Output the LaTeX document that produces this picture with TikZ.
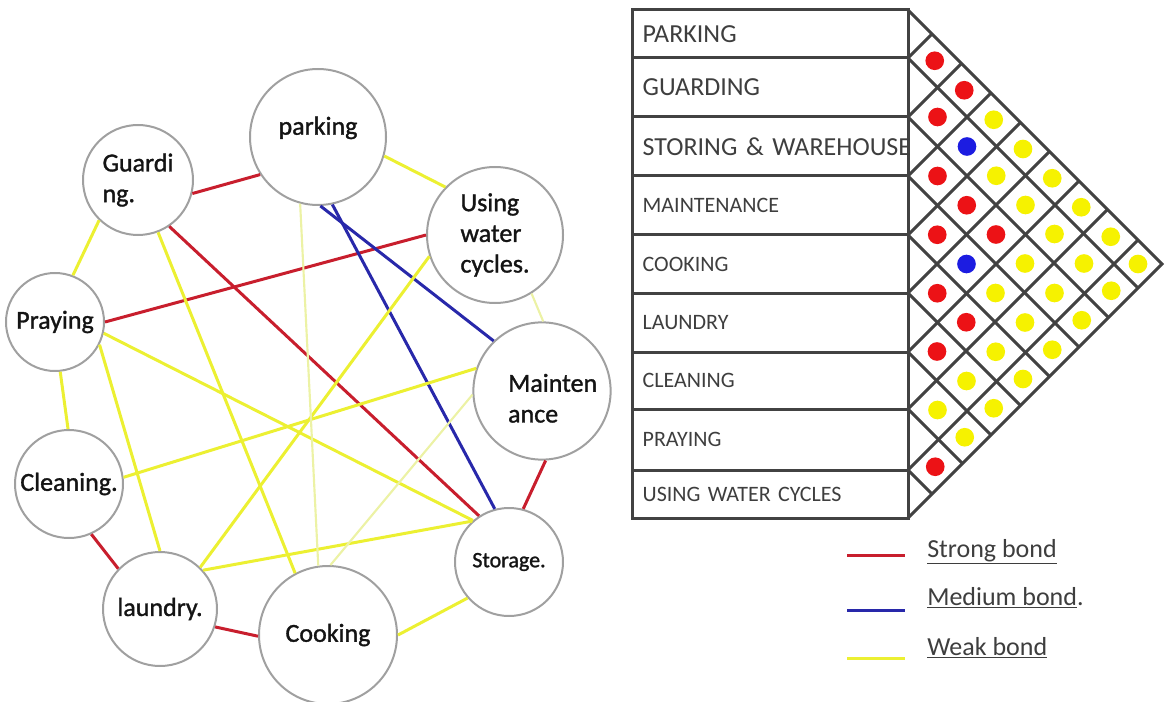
\documentclass[tikz,border=0pt]{standalone}
\usepackage{fontspec}
\setmainfont{Carlito}
\newfontfamily\nodofont[FakeBold=1.2]{Carlito}
\usetikzlibrary{calc}

% Colori
\definecolor{cerchio}{RGB}{160,160,160}
\definecolor{testo}{RGB}{20,20,20}
\definecolor{grigio}{RGB}{62,62,62}
\definecolor{linea}{RGB}{66,66,66}
\definecolor{rosso}{RGB}{200,30,45}
\definecolor{blu}{RGB}{40,40,170}
\definecolor{giallo}{RGB}{236,240,50}
\definecolor{gialloChiaro}{RGB}{236,242,165}
\definecolor{pRosso}{RGB}{236,18,22}
\definecolor{pBlu}{RGB}{28,28,225}
\definecolor{pGiallo}{RGB}{246,242,0}

% Corpi del testo
\newcommand{\grande}{\fontsize{19.5pt}{23pt}\selectfont}
\newcommand{\piccolo}{\fontsize{16.5pt}{20pt}\selectfont}
\newcommand{\minimo}{\fontsize{16.5pt}{20pt}\selectfont}

\begin{document}
\begin{tikzpicture}[x=0.75pt, y=-0.75pt]
	% Stili
	\tikzset{nodo/.style={circle, draw=cerchio, line width=1.5pt, fill=white, minimum size=#1*1.5pt, inner sep=0pt, align=left, text=testo, font=\nodofont\grande},
		forte/.style={rosso, line width=2.25pt},
		medio/.style={blu, line width=2.25pt},
		debole/.style={giallo, line width=2.25pt},
		tenue/.style={gialloChiaro, line width=1.6pt},
		riga/.style={draw=linea, line width=2.25pt, text width=191pt, align=left, inner xsep=8pt, inner ysep=0pt, outer sep=0pt, text=grigio},
		griglia/.style={linea, line width=2.25pt},
		legenda/.style={anchor=base west, inner sep=0pt, text=grigio, font=\grande}}
	\useasboundingbox (0,0) rectangle (1173,702);
	
	% Grafo delle attivita
	\node[nodo=68] (park)  at (318,137) {\raisebox{0pt}[\height][17pt]{parking}};
	\node[nodo=68] (water) at (495,235) {Using\\water\\cycles.};
	\node[nodo=55] (guard) at (138,180) {Guardi\\ng.};
	\node[nodo=49] (pray)  at (55,322)  {Praying};
	\node[nodo=68] (maint) at (542,391) {\hspace*{16pt}\raisebox{0pt}[\dimexpr\height+15pt][\depth]{\begin{tabular}{@{}l@{}}Mainten\\ance\end{tabular}}};
	\node[nodo=54, font=\nodofont\minimo] (stor) at (509,562) {Storage.};
	\node[nodo=69] (cook)  at (328,635) {Cooking};
	\node[nodo=57] (laund) at (160,609) {laundry.};
	\node[nodo=54] (clean) at (69,484)  {Cleaning.};
	
	% Legami forti
	\draw[forte] (guard.-14) -- (park.213);
	\draw[forte] (pray.0) -- (water.180);
	\draw[forte] (guard.-56) -- (stor.123);
	\draw[forte] (maint.-87) -- (stor.75);
	\draw[forte] (clean.-66) -- (laund.136);
	\draw[forte] (laund.-18) -- (cook.181);
	
	% Legami medi
	\draw[medio] (park.-88) -- (maint.134);
	\draw[medio] (park.-78) -- (stor.105);
	
	% Legami deboli
	\draw[debole] (park.-16) -- (water.136);
	\draw[debole] (guard.226) -- (pray.69);
	\draw[debole] (guard.-69) -- (cook.118);
	\draw[debole] (pray.-84) -- (clean.91);
	\draw[debole] (pray.-27) -- (laund.90);
	\draw[debole] (pray.-13) -- (stor.131);
	\draw[debole] (clean.7) -- (maint.161);
	\draw[debole] (laund.46) -- (water.198);
	\draw[debole] (laund.42) -- (stor.132);
	\draw[debole] (cook.0) -- (stor.221);
	\draw[tenue] (water.-58) -- (maint.89);
	\draw[tenue] (park.255) -- (cook.98);
	\draw[tenue] (cook.88) -- (maint.183);
	
	% Tabella delle attivita
	\foreach \nome/\yc/\alt/\fnt/\voce in {
		rPark/34/48/\grande/PARKING,
		rGuard/87.5/59/\grande/GUARDING,
		rStor/146.5/59/\grande/{\mbox{STORING \& WAREHOUSE}},
		rMaint/205.5/59/\piccolo/MAINTENANCE,
		rCook/264/58/\piccolo/COOKING,
		rLaund/322.5/59/\piccolo/LAUNDRY,
		rClean/380.5/57/\piccolo/CLEANING,
		rPray/439.5/61/\piccolo/PRAYING,
		rWater/494/48/\piccolo/USING WATER CYCLES}
		\node[riga, minimum height=\alt*0.75pt, font=\fnt] (\nome) at (770,\yc) {\voce};
	
	% Griglia a rombi
	\draw[griglia, line join=miter] (908,10) -- (1162,264) -- (908,518);
	\foreach \yb in {58,117,176,235,293,352,409,470}{
		\draw[griglia] (908,\yb) -- ({908+(518-\yb)/2},{(518+\yb)/2});
		\draw[griglia] (908,\yb) -- ({908+(\yb-10)/2},{(10+\yb)/2});
	}
	
	% Punti della matrice
	\foreach \a/\b/\col in {
		rPark/rGuard/pRosso, rPark/rStor/pRosso, rGuard/rStor/pRosso, rStor/rMaint/pRosso,
		rMaint/rCook/pRosso, rStor/rCook/pRosso, rStor/rLaund/pRosso, rCook/rLaund/pRosso,
		rCook/rClean/pRosso, rLaund/rClean/pRosso, rPray/rWater/pRosso,
		rGuard/rMaint/pBlu, rMaint/rLaund/pBlu,
		rPark/rMaint/pGiallo, rPark/rCook/pGiallo, rGuard/rCook/pGiallo, rPark/rLaund/pGiallo,
		rGuard/rLaund/pGiallo, rPark/rClean/pGiallo, rGuard/rClean/pGiallo, rPark/rPray/pGiallo,
		rStor/rClean/pGiallo, rGuard/rPray/pGiallo, rPark/rWater/pGiallo, rMaint/rClean/pGiallo,
		rStor/rPray/pGiallo, rGuard/rWater/pGiallo, rMaint/rPray/pGiallo, rStor/rWater/pGiallo,
		rCook/rPray/pGiallo, rMaint/rWater/pGiallo, rLaund/rPray/pGiallo, rCook/rWater/pGiallo,
		rClean/rPray/pGiallo, rLaund/rWater/pGiallo, rClean/rWater/pGiallo}
		\fill[\col] let \p1=(\a.east), \p2=(\b.east) in ({\x1+(\y1-(\y2))/2},{(\y1+(\y2))/2}) circle (7pt);
	
	% Legenda
	\draw[forte] (847,555) -- (905,555);
	\draw[medio] (847,610) -- (905,610);
	\draw[debole] (847,658) -- (905,658);
	\node[legenda] (lForte) at (927,557) {\underline{Strong bond}};
	\node[legenda] (lMedio) at (927,605) {\underline{Medium bond}.};
	\node[legenda] (lDebole) at (927,655) {\underline{Weak bond}};
	
\end{tikzpicture}
\end{document}
